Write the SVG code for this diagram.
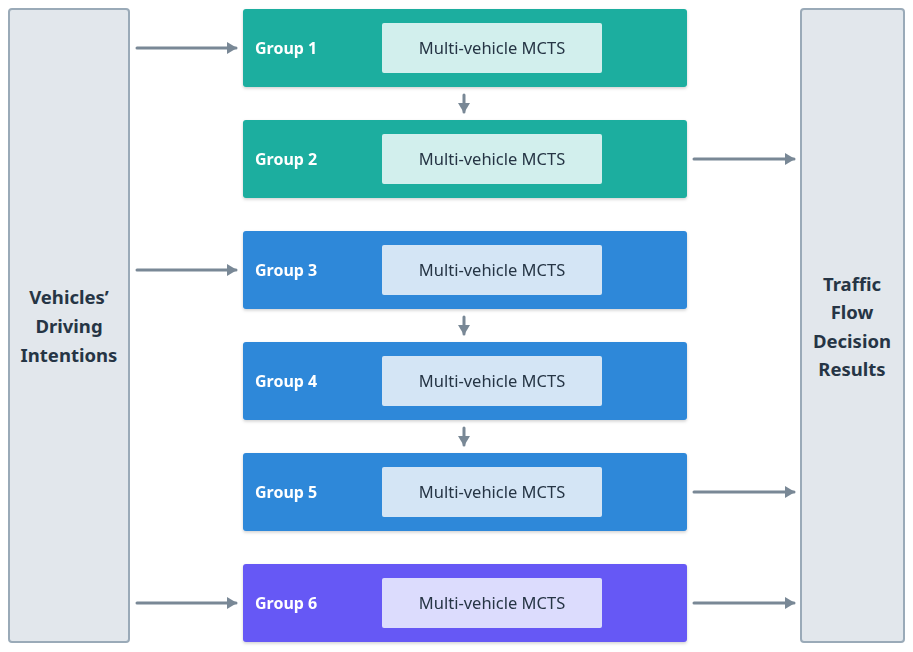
<svg xmlns="http://www.w3.org/2000/svg" width="913" height="652" viewBox="0 0 913 652">
<defs>
<marker id="ah" markerWidth="12" markerHeight="12" refX="9" refY="6" orient="auto" markerUnits="userSpaceOnUse">
<path d="M0,0 L10,6 L0,12 Z" fill="#798896"/>
</marker>
<filter id="sh" x="-5%" y="-10%" width="110%" height="130%">
<feDropShadow dx="0" dy="1.5" stdDeviation="1.5" flood-color="#000" flood-opacity="0.18"/>
</filter>
<style>
.side{fill:#e2e7ec;stroke:#9aaab8;stroke-width:2}
.sidet{font-family:"Noto Sans","DejaVu Sans",sans-serif;font-weight:bold;font-size:18.5px;fill:#263545;text-anchor:middle}
.gl{font-family:"Noto Sans","DejaVu Sans",sans-serif;font-weight:bold;font-size:16px;fill:#ffffff}
.it{font-family:"Noto Sans","DejaVu Sans",sans-serif;font-size:16.5px;fill:#263545;text-anchor:middle}
.teal{fill:#1aae9f}
.blue{fill:#2d88d9}
.purp{fill:#6658f5}
.tealI{fill:#d2efed}
.blueI{fill:#d4e5f5}
.purpI{fill:#dcdcfd}
.c{stroke:#798896;stroke-width:3;fill:none;stroke-linecap:round}
</style>
</defs>
<g id="intentions">
<rect class="side" x="9" y="9" width="120" height="633" rx="3"/>
<text class="sidet"><tspan x="69" y="304">Vehicles’</tspan><tspan x="69" y="333">Driving</tspan><tspan x="69" y="362">Intentions</tspan></text>
</g>
<g id="results">
<rect class="side" x="801" y="9" width="103" height="633" rx="3"/>
<text class="sidet"><tspan x="852" y="291">Traffic</tspan><tspan x="852" y="319">Flow</tspan><tspan x="852" y="348">Decision</tspan><tspan x="852" y="376">Results</tspan></text>
</g>
<g id="group1" filter="url(#sh)">
<rect class="teal" x="243" y="9" width="444" height="78" rx="3"/>
<text class="gl" x="255" y="54">Group 1</text>
<rect class="tealI" x="382" y="23" width="220" height="50" rx="2"/>
<text class="it" x="492" y="54">Multi-vehicle MCTS</text>
</g>
<g id="group2" filter="url(#sh)">
<rect class="teal" x="243" y="120" width="444" height="78" rx="3"/>
<text class="gl" x="255" y="165">Group 2</text>
<rect class="tealI" x="382" y="134" width="220" height="50" rx="2"/>
<text class="it" x="492" y="165">Multi-vehicle MCTS</text>
</g>
<g id="group3" filter="url(#sh)">
<rect class="blue" x="243" y="231" width="444" height="78" rx="3"/>
<text class="gl" x="255" y="276">Group 3</text>
<rect class="blueI" x="382" y="245" width="220" height="50" rx="2"/>
<text class="it" x="492" y="276">Multi-vehicle MCTS</text>
</g>
<g id="group4" filter="url(#sh)">
<rect class="blue" x="243" y="342" width="444" height="78" rx="3"/>
<text class="gl" x="255" y="387">Group 4</text>
<rect class="blueI" x="382" y="356" width="220" height="50" rx="2"/>
<text class="it" x="492" y="387">Multi-vehicle MCTS</text>
</g>
<g id="group5" filter="url(#sh)">
<rect class="blue" x="243" y="453" width="444" height="78" rx="3"/>
<text class="gl" x="255" y="498">Group 5</text>
<rect class="blueI" x="382" y="467" width="220" height="50" rx="2"/>
<text class="it" x="492" y="498">Multi-vehicle MCTS</text>
</g>
<g id="group6" filter="url(#sh)">
<rect class="purp" x="243" y="564" width="444" height="78" rx="3"/>
<text class="gl" x="255" y="609">Group 6</text>
<rect class="purpI" x="382" y="578" width="220" height="50" rx="2"/>
<text class="it" x="492" y="609">Multi-vehicle MCTS</text>
</g>
<g id="connectors">
<path class="c" d="M137,48 H236" marker-end="url(#ah)"/>
<path class="c" d="M137,270 H236" marker-end="url(#ah)"/>
<path class="c" d="M137,603 H236" marker-end="url(#ah)"/>
<path class="c" d="M694,159 H794" marker-end="url(#ah)"/>
<path class="c" d="M694,492 H794" marker-end="url(#ah)"/>
<path class="c" d="M694,603 H794" marker-end="url(#ah)"/>
<path class="c" d="M464,95 V112" marker-end="url(#ah)"/>
<path class="c" d="M464,317 V334" marker-end="url(#ah)"/>
<path class="c" d="M464,428 V445" marker-end="url(#ah)"/>
</g>
</svg>
